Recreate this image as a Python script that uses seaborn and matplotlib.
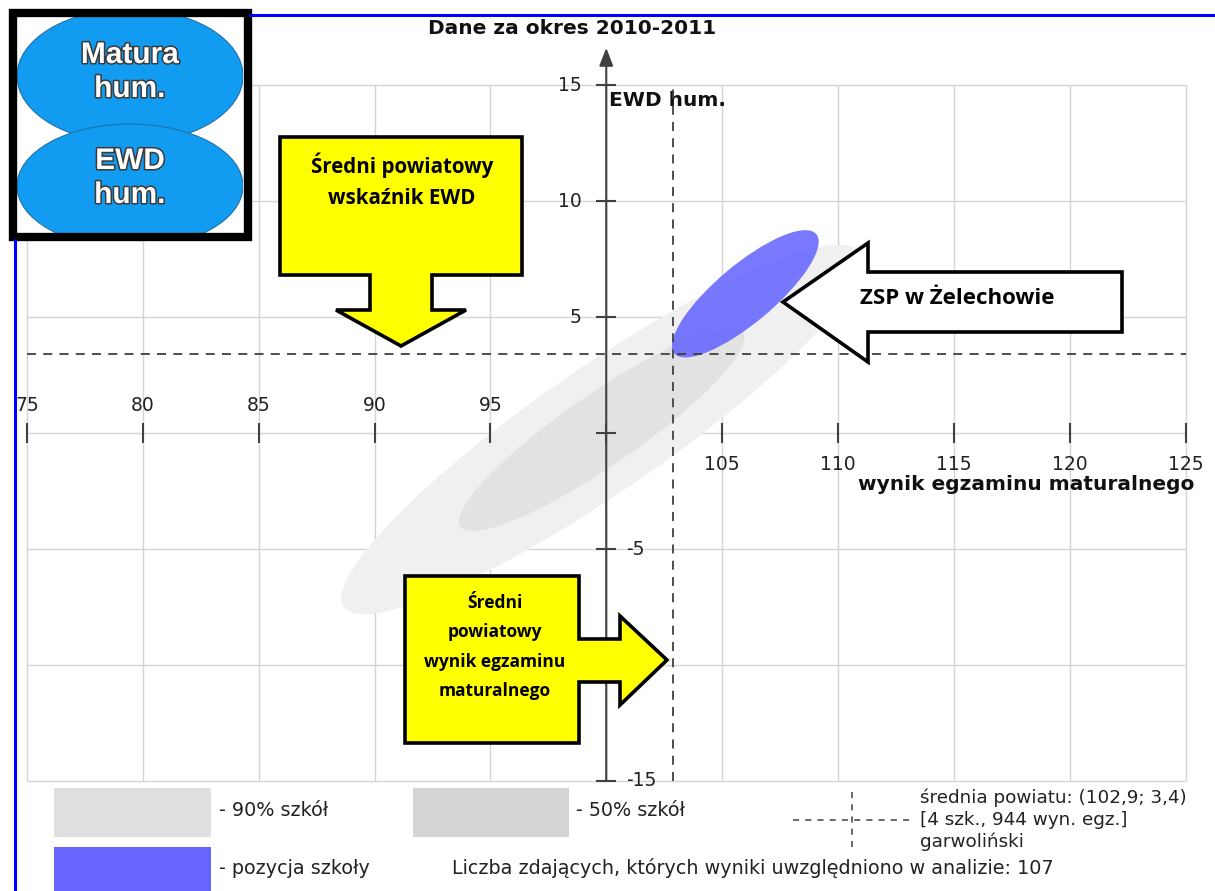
import matplotlib
matplotlib.use('Agg')
import matplotlib.pyplot as plt
import matplotlib.patheffects as pe
from matplotlib.patches import Ellipse, Polygon, Rectangle
import seaborn as sns

# ---- data ----
x_ticks = [75, 80, 85, 90, 95, 100, 105, 110, 115, 120, 125]
y_ticks = [-15, -10, -5, 0, 5, 10, 15]
origin = (100, 0)

band_names = ['90% szkół', '50% szkół']
band_centers = [(99.8, 0.15), (99.8, 0.15)]
band_widths = [27.0, 14.8]
band_heights = [5.4, 3.1]
band_angles = [34.5, 34.5]
band_colors = ['#f0f0f0', '#e2e2e2']
legend_band_colors = ['#e0e0e0', '#d4d4d4']

school_center = (106.0, 6.0)
school_width = 8.0
school_height = 2.5
school_angle = 40

county_mean = (102.9, 3.4)
county_label = ['średnia powiatu: (102,9; 3,4)', '[4 szk., 944 wyn. egz.]', 'garwoliński']
n_students = 107

# ---- figure / pixel mapping ----
W, H = 1215, 891
X_PX0, X_UNIT = 27, 23.17     # x=75 at pixel 27
Y_PX0, Y_UNIT = 433, 23.2     # y=0 at pixel 433

sns.set_theme(style='white')
plt.rcParams['font.family'] = ['DejaVu Sans']
AX_COL = '#404040'
TXT_COL = '#222222'

fig = plt.figure(figsize=(W / 100, H / 100), dpi=100)
fig.patch.set_facecolor('white')
ax = fig.add_axes([0, 0, 1, 1])
ax.set_xlim(75 - X_PX0 / X_UNIT, 75 + (W - X_PX0) / X_UNIT)
ax.set_ylim(-(H - Y_PX0) / Y_UNIT, Y_PX0 / Y_UNIT)
ax.axis('off')

# grid
ax.vlines(x_ticks, y_ticks[0], y_ticks[-1], color='#d4d4d4', lw=1, zorder=0)
ax.hlines(y_ticks, x_ticks[0], x_ticks[-1], color='#d4d4d4', lw=1, zorder=0)

# distribution ellipses
for c, w, h, a, col in zip(band_centers, band_widths, band_heights, band_angles, band_colors):
    ax.add_patch(Ellipse(c, w, h, angle=a, facecolor=col, edgecolor='none', zorder=1))
ax.add_patch(Ellipse(school_center, school_width, school_height, angle=school_angle,
                     facecolor='#6666ff', alpha=0.88, edgecolor='none', zorder=3))

# county average
ax.plot([county_mean[0]] * 2, [y_ticks[0], y_ticks[-1]], ls=(0, (5, 4)), color=AX_COL, lw=1.3, zorder=4)
ax.plot([x_ticks[0], x_ticks[-1]], [county_mean[1]] * 2, ls=(0, (5, 4)), color=AX_COL, lw=1.3, zorder=4)

# axes with arrows
ax.annotate('', xy=(126.3, 0), xytext=(x_ticks[0], 0),
            arrowprops=dict(arrowstyle='-|>,head_length=0.9,head_width=0.35', color=AX_COL, lw=1.5,
                            shrinkA=0, shrinkB=0), zorder=5)
ax.annotate('', xy=(100, 16.6), xytext=(100, y_ticks[0]),
            arrowprops=dict(arrowstyle='-|>,head_length=0.9,head_width=0.35', color=AX_COL, lw=1.5,
                            shrinkA=0, shrinkB=0), zorder=5)
ax.plot(x_ticks, [0] * len(x_ticks), ls='none', marker='|', ms=15, mew=1.5, color=AX_COL, zorder=5)
ax.plot([100] * len(y_ticks), y_ticks, ls='none', marker='_', ms=15, mew=1.5, color=AX_COL, zorder=5)

tick_fs = 13.5
for x in x_ticks:
    if x < origin[0]:
        ax.text(x, 28 / Y_UNIT, str(x), ha='center', va='center', fontsize=tick_fs, color=TXT_COL, zorder=6)
    elif x > origin[0]:
        ax.text(x, -31 / Y_UNIT, str(x), ha='center', va='center', fontsize=tick_fs, color=TXT_COL, zorder=6)
for y in y_ticks:
    if y > 0:
        ax.text(100 - 25 / X_UNIT, y, str(y), ha='right', va='center', fontsize=tick_fs, color=TXT_COL, zorder=6)
    elif y < 0:
        ax.text(100 + 20 / X_UNIT, y, str(y), ha='left', va='center', fontsize=tick_fs, color=TXT_COL, zorder=6)

ax.text(100 + 3 / X_UNIT, 14.35, 'EWD hum.', ha='left', va='center', fontsize=14.5,
        fontweight='bold', color='#111111', zorder=3)
ax.text(125.4, -2.2, 'wynik egzaminu maturalnego', ha='right', va='center', fontsize=14.5,
        fontweight='bold', color='#111111', zorder=6)

# ---- overlay in pixel coordinates (frame, legend, callouts) ----
ov = fig.add_axes([0, 0, 1, 1], zorder=10)
ov.set_xlim(0, W)
ov.set_ylim(H, 0)
ov.axis('off')
ov.patch.set_alpha(0)

ov.text(572, 28, 'Dane za okres 2010-2011', ha='center', va='center', fontsize=14.5,
        fontweight='bold', color='#111111')

# blue screenshot frame
ov.plot([250, W], [14.5, 14.5], color='#0000ff', lw=2.2)
ov.plot([14.5, 14.5], [240, H], color='#0000ff', lw=2.2)

# legend
ov.add_patch(Rectangle((54, 788), 157, 49, facecolor=legend_band_colors[0], edgecolor='none'))
ov.add_patch(Rectangle((413, 788), 156, 49, facecolor=legend_band_colors[1], edgecolor='none'))
ov.add_patch(Rectangle((54, 847), 157, 50, facecolor='#6666ff', edgecolor='none'))
leg_fs = 13.8
ov.text(219, 811, '- ' + band_names[0], ha='left', va='center', fontsize=leg_fs, color=TXT_COL)
ov.text(576, 811, '- ' + band_names[1], ha='left', va='center', fontsize=leg_fs, color=TXT_COL)
ov.text(219, 868, '- pozycja szkoły', ha='left', va='center', fontsize=leg_fs, color=TXT_COL)
ov.text(452, 868, f'Liczba zdających, których wyniki uwzględniono w analizie: {n_students}',
        ha='left', va='center', fontsize=leg_fs, color=TXT_COL)
for i, line in enumerate(county_label):
    ov.text(920, 798 + 22 * i, line, ha='left', va='center', fontsize=leg_fs - 0.6, color=TXT_COL)
ov.plot([793, 910], [820, 820], ls=(0, (4, 4)), color=AX_COL, lw=1.1)
ov.plot([852, 852], [792, 852], ls=(0, (4, 4)), color=AX_COL, lw=1.1)

# callouts
call_font = dict(family='Open Sans', fontweight='bold', color='black')
ov.add_patch(Polygon([(280, 137), (522, 137), (522, 275), (432, 275), (432, 310), (466, 310),
                      (401, 346), (336, 310), (370, 310), (370, 275), (280, 275)],
                     closed=True, facecolor='#ffff00', edgecolor='black', lw=2.6, joinstyle='miter'))
ov.text(402, 165, 'Średni powiatowy', ha='center', va='center', fontsize=14.8, **call_font)
ov.text(402, 198, 'wskaźnik EWD', ha='center', va='center', fontsize=14.8, **call_font)

ov.add_patch(Polygon([(405, 576), (579, 576), (579, 639), (620, 639), (620, 616), (667, 660),
                      (620, 705), (620, 682), (579, 682), (579, 743), (405, 743)],
                     closed=True, facecolor='#ffff00', edgecolor='black', lw=2.6, joinstyle='miter'))
for i, line in enumerate(['Średni', 'powiatowy', 'wynik egzaminu', 'maturalnego']):
    ov.text(495, 603 + 29.3 * i, line, ha='center', va='center', fontsize=12.5, **call_font)

ov.add_patch(Polygon([(783, 302), (868, 243), (868, 272), (1122, 272), (1122, 332), (868, 332),
                      (868, 362)],
                     closed=True, facecolor='white', edgecolor='black', lw=2.6, joinstyle='miter'))
ov.text(957, 298, 'ZSP w Żelechowie', ha='center', va='center', fontsize=16, **call_font)

# subject badge in the top-left corner
ov.add_patch(Rectangle((12.5, 13), 235, 224, facecolor='white', edgecolor='none'))
clip = Rectangle((17, 17), 226, 216, transform=ov.transData)
for cy, hh in [(76, 134), (186, 124)]:
    e = Ellipse((130, cy), 226, hh, facecolor='#119cf2', edgecolor='#2070a8', lw=0.8)
    ov.add_patch(e)
    e.set_clip_path(clip)
for y_txt, s in [(55, 'Matura'), (89, 'hum.'), (161, 'EWD'), (195, 'hum.')]:
    ov.text(130, y_txt, s, ha='center', va='center', fontsize=21.5, fontweight='bold',
            family='Liberation Sans', color='white',
            path_effects=[pe.withStroke(linewidth=2.2, foreground='#3a3a3a')])
ov.add_patch(Rectangle((12.5, 13), 235, 224, facecolor='none', edgecolor='black', lw=6))

fig.savefig('out.png', dpi=100)
